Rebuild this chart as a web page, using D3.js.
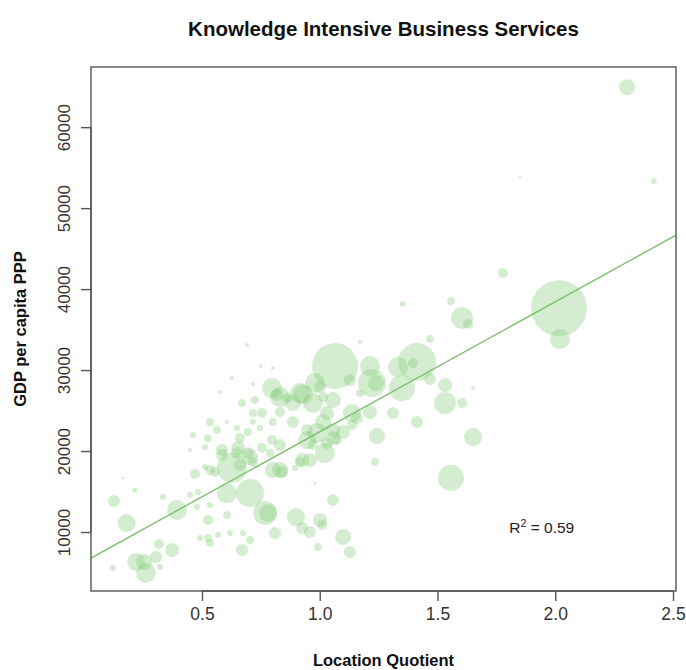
<!DOCTYPE html>
<html>
<head>
<meta charset="utf-8">
<script src="https://cdn.jsdelivr.net/npm/d3@7"></script>
<style>
  html, body { margin: 0; padding: 0; background: #fff; }
  svg { display: block; font-family: "Liberation Sans", Arial, sans-serif; }
</style>
</head>
<body>
<svg id="chart" width="686" height="670"></svg>
<script>
// ---- Data (Location Quotient, GDP per capita PPP, population in millions) ----
const lq = [
  2.016, 2.02, 2.305, 2.419, 1.85, 1.778, 1.604, 1.63, 1.557, 1.353,
  1.065, 1.413, 1.332, 1.213, 1.468, 1.171, 1.222, 1.349, 1.532, 1.532,
  1.604, 1.651, 1.413, 1.243, 1.651, 1.557, 1.234, 1.311, 1.213, 1.468,
  1.396, 1.239, 1.128, 1.171, 1.137, 1.056, 0.98, 0.929, 1.022, 1.056,
  0.971, 0.925, 0.831, 0.895, 0.98, 1.056, 0.78, 0.899, 1.001, 0.925,
  0.958, 1.01, 1.099, 0.81, 0.992, 1.128, 0.394, 0.47, 0.334, 0.449,
  0.483, 0.479, 0.534, 0.525, 0.606, 0.525, 0.534, 0.492, 0.568, 0.619,
  0.674, 0.704, 0.67, 0.768, 0.704, 0.606, 0.627, 0.585, 0.648, 0.704,
  0.661, 0.716, 0.801, 0.84, 0.513, 0.555, 0.126, 0.18, 0.165, 0.215,
  0.317, 0.22, 0.254, 0.262, 0.122, 0.305, 0.322, 0.373, 0.691, 0.75,
  0.801, 0.627, 0.716, 0.576, 0.67, 0.725, 0.797, 0.831, 0.916, 1.001,
  0.971, 1.014, 0.886, 0.818, 0.861, 1.031, 1.158, 0.716, 0.755, 0.801,
  0.831, 0.886, 0.946, 1.014, 0.988, 1.056, 1.099, 1.137, 0.946, 1.031,
  1.073, 0.958, 0.916, 0.831, 0.797, 0.789, 0.746, 0.695, 0.716, 0.661,
  0.648, 0.606, 0.564, 0.534, 0.525, 0.513, 0.462, 0.449, 0.585, 0.653,
  0.695, 0.755, 0.534
];
const gdp = [
  37650, 33830, 64940, 53330, 53830, 41980, 36420, 35680, 38520, 38150,
  30490, 30990, 30370, 30490, 33830, 33460, 28400, 27780, 28150, 25930,
  25930, 27780, 23580, 21850, 21730, 16700, 18640, 24690, 24810, 28890,
  30860, 28400, 28770, 27160, 24690, 26300, 28400, 27000, 19750, 21600,
  20740, 18890, 17650, 17900, 16050, 13950, 12350, 11850, 11480, 10490,
  10000, 10860, 9380, 9880, 8150, 7530, 12720, 17160, 14320, 14570,
  14940, 13090, 13330, 11480, 12100, 9260, 8640, 9260, 9630, 9880,
  9880, 9010, 7780, 12350, 14810, 14810, 17900, 19510, 19760, 19260,
  18270, 18640, 17650, 17410, 18030, 17410, 13830, 11110, 16670, 15190,
  8520, 6300, 6300, 4940, 5560, 6910, 5680, 7780, 33090, 30490,
  30250, 29010, 28270, 27280, 25930, 26300, 27780, 26670, 27160, 27900,
  25930, 26670, 25930, 26910, 26540, 24690, 24070, 24690, 24690, 23580,
  24810, 23580, 22590, 23580, 22220, 22590, 22350, 23210, 21360, 20990,
  21360, 18890, 18640, 20740, 21360, 19750, 22840, 22350, 23580, 21600,
  22840, 23580, 22590, 23580, 21600, 20490, 21980, 20120, 20120, 20370,
  19750, 20370, 17650
];
const pop = [
  12, 1.53, 0.98, 0.14, 0.03, 0.38, 1.85, 0.38, 0.24, 0.14,
  8.09, 5.52, 1.53, 1.53, 0.24, 0.06, 3.0, 2.59, 0.75, 1.85,
  0.38, 0.06, 0.55, 0.98, 1.24, 2.59, 0.24, 0.55, 0.75, 0.55,
  0.38, 0.98, 0.55, 0.24, 1.24, 0.98, 1.53, 1.53, 1.53, 0.75,
  0.38, 0.75, 0.98, 0.14, 0.03, 0.55, 1.24, 1.24, 0.75, 0.55,
  0.55, 0.38, 0.98, 0.55, 0.24, 0.55, 1.53, 0.38, 0.14, 0.14,
  0.14, 0.14, 0.14, 0.38, 0.24, 0.24, 0.24, 0.14, 0.14, 0.14,
  0.14, 0.24, 0.55, 2.2, 3.0, 1.53, 3.44, 0.55, 0.55, 0.98,
  0.55, 0.38, 0.98, 0.55, 0.14, 0.38, 0.55, 1.24, 0.03, 0.1,
  0.38, 1.24, 0.98, 1.53, 0.14, 0.55, 0.14, 0.75, 0.06, 0.06,
  0.06, 0.06, 0.06, 0.06, 0.24, 0.24, 1.53, 1.53, 1.53, 0.55,
  1.53, 0.38, 0.98, 0.55, 0.38, 0.75, 0.55, 0.24, 0.38, 0.24,
  0.38, 0.55, 0.55, 0.98, 1.53, 0.75, 0.75, 0.38, 1.24, 0.55,
  0.38, 0.75, 0.38, 0.55, 0.38, 0.24, 0.14, 0.24, 0.14, 0.38,
  0.14, 0.06, 0.24, 0.24, 0.24, 0.14, 0.14, 0.06, 0.55, 0.75,
  0.55, 0.38, 0.38
];
const xTicks = [0.5, 1.0, 1.5, 2.0, 2.5];
const yTicks = [10000, 20000, 30000, 40000, 50000, 60000];
const fit = { intercept: 6324, slope: 16054, r2: 0.59 };
const titleText = "Knowledge Intensive Business Services";
const xLabel = "Location Quotient";
const yLabel = "GDP per capita PPP";

// ---- Layout ----
const svg = d3.select("#chart");
const plot = { left: 91, top: 67, right: 676, bottom: 591 };

const x = d3.scaleLinear().domain([0.0287, 2.5127]).range([plot.left, plot.right]);
const y = d3.scaleLinear().domain([2717, 67430]).range([plot.bottom, plot.top]);
const r = d3.scaleSqrt().domain([0, 12]).range([0, 28]);

const data = lq.map((v, i) => ({ lq: v, gdp: gdp[i], pop: pop[i] }))
  .sort((a, b) => b.pop - a.pop);

svg.append("defs").append("clipPath").attr("id", "clip")
  .append("rect")
  .attr("x", plot.left).attr("y", plot.top)
  .attr("width", plot.right - plot.left).attr("height", plot.bottom - plot.top);

const g = svg.append("g").attr("clip-path", "url(#clip)");

g.selectAll("circle").data(data).join("circle")
  .attr("cx", d => x(d.lq))
  .attr("cy", d => y(d.gdp))
  .attr("r", d => Math.max(1.3, r(d.pop)))
  .attr("fill", "#78c86e")
  .attr("fill-opacity", 0.32);

// regression line
const x0 = x.domain()[0], x1 = x.domain()[1];
g.append("line")
  .attr("x1", x(x0)).attr("y1", y(fit.intercept + fit.slope * x0))
  .attr("x2", x(x1)).attr("y2", y(fit.intercept + fit.slope * x1))
  .attr("stroke", "#7fbf73")
  .attr("stroke-width", 1.4);

// box
svg.append("rect")
  .attr("x", plot.left).attr("y", plot.top)
  .attr("width", plot.right - plot.left).attr("height", plot.bottom - plot.top)
  .attr("fill", "none").attr("stroke", "#555").attr("stroke-width", 1.4);

// x axis
const xAxis = d3.axisBottom(x).tickValues(xTicks).tickFormat(d3.format(".1f"))
  .tickSize(10).tickSizeOuter(0).tickPadding(7);
const gx = svg.append("g").attr("transform", `translate(0,${plot.bottom})`).call(xAxis);
gx.select(".domain").attr("d", `M${x(xTicks[0])},0H${x(xTicks[xTicks.length-1])}`)
  .attr("stroke", "#555").attr("stroke-width", 1.4);
gx.selectAll(".tick line").attr("stroke", "#555").attr("stroke-width", 1.4);
gx.selectAll(".tick text").attr("font-size", 17.5).attr("fill", "#333")
  .attr("font-family", "Liberation Sans, Arial, sans-serif");

// y axis
const yAxis = d3.axisLeft(y).tickValues(yTicks).tickFormat(d3.format("d"))
  .tickSize(10).tickSizeOuter(0).tickPadding(0);
const gy = svg.append("g").attr("transform", `translate(${plot.left},0)`).call(yAxis);
gy.select(".domain").attr("d", `M0,${y(yTicks[0])}V${y(yTicks[yTicks.length-1])}`)
  .attr("stroke", "#555").attr("stroke-width", 1.4);
gy.selectAll(".tick line").attr("stroke", "#555").attr("stroke-width", 1.4);
gy.selectAll(".tick text")
  .attr("font-size", 17).attr("fill", "#333")
  .attr("font-family", "Liberation Sans, Arial, sans-serif")
  .attr("x", null).attr("dy", null)
  .attr("text-anchor", "middle")
  .attr("transform", "translate(-21,0) rotate(-90)");

// title and labels
svg.append("text").attr("x", (plot.left + plot.right) / 2).attr("y", 36)
  .attr("text-anchor", "middle").attr("font-weight", "bold").attr("font-size", 20.5)
  .attr("fill", "#111").text(titleText);

svg.append("text").attr("x", (plot.left + plot.right) / 2).attr("y", 666)
  .attr("text-anchor", "middle").attr("font-weight", "bold").attr("font-size", 16.5)
  .attr("fill", "#111").text(xLabel);

svg.append("text")
  .attr("transform", `translate(26,${(plot.top + plot.bottom) / 2}) rotate(-90)`)
  .attr("text-anchor", "middle").attr("font-weight", "bold").attr("font-size", 16.5)
  .attr("fill", "#111").text(yLabel);

// R^2 annotation
const rt = svg.append("text").attr("x", x(1.805)).attr("y", y(9900))
  .attr("font-size", 15.5).attr("fill", "#222");
rt.append("tspan").text("R");
rt.append("tspan").attr("font-size", 10.5).attr("dy", -6).text("2");
rt.append("tspan").attr("dy", 6).text(" = " + fit.r2.toFixed(2));
</script>
</body>
</html>
